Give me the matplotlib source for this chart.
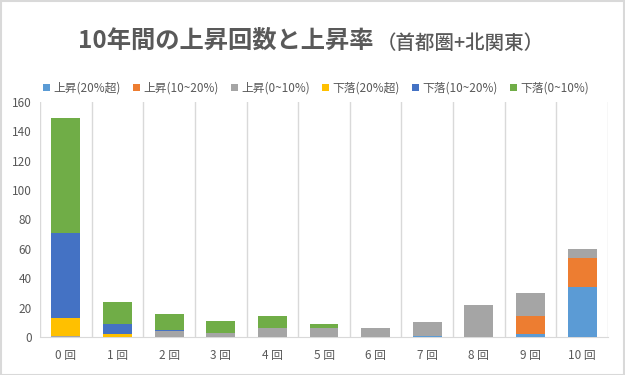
import matplotlib
matplotlib.use("Agg")
import matplotlib.pyplot as plt
from matplotlib.patches import Rectangle
import numpy as np

plt.rcParams['font.family'] = ['Noto Sans CJK JP', 'DejaVu Sans']

categories = ["0 回", "1 回", "2 回", "3 回", "4 回", "5 回", "6 回", "7 回", "8 回", "9 回", "10 回"]
series_names = ["上昇(20%超)", "上昇(10~20%)", "上昇(0~10%)", "下落(20%超)", "下落(10~20%)", "下落(0~10%)"]
up_20plus   = [0, 0, 0, 0, 0, 0, 0, 1, 0, 2, 34]
up_10_20    = [0, 0, 0, 0, 0, 0, 0, 0, 0, 12, 20]
up_0_10     = [1, 0, 4, 3, 6, 6, 6, 9, 22, 16, 6]
down_20plus = [12, 2, 0, 0, 0, 0, 0, 0, 0, 0, 0]
down_10_20  = [58, 7, 1, 0, 0, 0, 0, 0, 0, 0, 0]
down_0_10   = [78, 15, 11, 8, 8, 3, 0, 0, 0, 0, 0]
yticks = [0, 20, 40, 60, 80, 100, 120, 140, 160]

colors = ["#5B9BD5", "#ED7D31", "#A5A5A5", "#FFC000", "#4472C4", "#70AD47"]
series = [up_20plus, up_10_20, up_0_10, down_20plus, down_10_20, down_0_10]

fig = plt.figure(figsize=(6.25, 3.75), dpi=100)
ax = fig.add_axes([40/625, 1-337/375, 568/625, 235/375])

x = np.arange(len(categories))
bottom = np.zeros(len(categories))
handles = []
for name, vals, c in zip(series_names, series, colors):
    b = ax.bar(x, vals, width=0.56, bottom=bottom, color=c, label=name, zorder=3)
    handles.append(b)
    bottom += np.array(vals)

ax.set_xlim(-0.5, len(categories) - 0.5)
ax.set_ylim(0, 160)
ax.set_yticks(yticks)
ax.set_xticks(x)
ax.set_xticklabels(categories)
for xb in np.arange(-0.5, len(categories), 1.0):
    ax.axvline(xb, color="#D9D9D9", lw=1, zorder=1)
for s in ["top", "right", "left"]:
    ax.spines[s].set_visible(False)
ax.spines["bottom"].set_color("#D9D9D9")
ax.tick_params(axis="both", length=0, labelsize=8.5, colors="#595959")
ax.tick_params(axis="x", pad=9)
ax.tick_params(axis="y", pad=6)

t1 = fig.text(78/625, 1-48/375, "10年間の上昇回数と上昇率", fontsize=17.5, fontweight="bold",
              color="#595959", ha="left", va="baseline")
fig.canvas.draw()
ann = plt.annotate("（首都圏+北関東）", xy=(1, 0), xycoords=t1, xytext=(2, 0),
                   textcoords="offset points", fontsize=14, fontweight="medium",
                   color="#595959", ha="left", va="bottom")

fig.legend(handles=handles, labels=series_names, loc="center", bbox_to_anchor=(316/625, 1-88/375),
           ncol=6, frameon=False, fontsize=8.5, handlelength=0.6, handleheight=0.6,
           handletextpad=0.3, columnspacing=1.0, labelcolor="#595959")

fig.patches.append(Rectangle((0.001, 0.001), 0.997, 0.996, transform=fig.transFigure,
                             fill=False, edgecolor="#D9D9D9", lw=1.5))

fig.savefig("out.png", dpi=100, facecolor="white")
